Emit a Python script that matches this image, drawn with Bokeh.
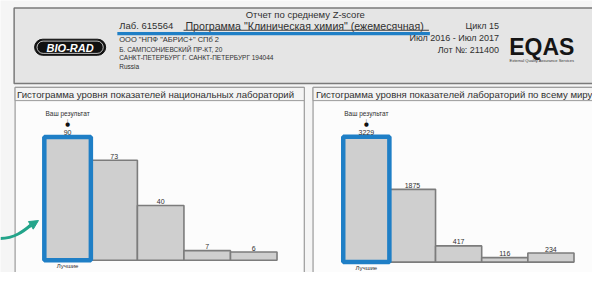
from bokeh.plotting import figure
from bokeh.models import Range1d, Arrow, NormalHead
from bokeh.core.properties import value
from bokeh.embed import file_html
from bokeh.resources import INLINE

# ---------------- data ----------------
level_labels = ["Лучшие", "", "", "", ""]
national_counts = [90, 73, 40, 7, 6]
world_counts = [3229, 1875, 417, 116, 234]
your_level = 0

national_title = "Гистограмма уровня показателей национальных лабораторий"
world_title = "Гистограмма уровня показателей лабораторий по всему миру"
your_result_label = "Ваш результат"

report_title = "Отчет по среднему Z-score"
lab_id = "Лаб. 615564"
program = 'Программа "Клиническая химия" (ежемесячная)'
address_lines = ['ООО "НПФ "АБРИС+" СПб 2', "Б. САМПСОНИЕВСКИЙ ПР-КТ, 20",
                 "САНКТ-ПЕТЕРБУРГ Г. САНКТ-ПЕТЕРБУРГ   194044", "Russia"]
cycle_lines = ["Цикл 15", "Июл 2016 - Июл 2017", "Лот №: 211400"]

# ---------------- layout (reference-pixel frame) ----------------
W, H = 608, 288
FONT = value("Liberation Sans")
TXT = "#303030"
BAR_FILL = "#cfcfcf"
BAR_LINE = "#7c7c7c"
BLUE = "#1f7fc6"
GREEN = "#23a48a"

p = figure(width=592, height=272, x_range=Range1d(0, W), y_range=Range1d(H, 0),
           output_backend="svg", toolbar_location=None, min_border=0,
           x_axis_location=None, y_axis_location=None)
p.grid.visible = False
p.outline_line_color = None
p.background_fill_color = "#f5f5f5"
p.border_fill_color = "#f5f5f5"

# header box
p.quad(left=[14], right=[620], top=[8], bottom=[88], fill_color="#e5e5e5",
       line_color="#7a7a7a", line_width=1.5)
# panels
p.quad(left=[15, 321], right=[312, 620], top=[92, 92], bottom=[300, 300],
       fill_color="#fcfcfc", line_color="#9a9a9a", line_width=1.2)
p.quad(left=[15, 321], right=[312, 620], top=[92, 92], bottom=[106, 106],
       fill_color="#f4f4f4", line_color="#9a9a9a", line_width=1)
p.text(x=[17, 324], y=[99, 99], text=[national_title, world_title],
       text_font=FONT, text_font_size="9.6px", text_color=TXT,
       text_baseline="middle", text_align="left")

# BIO-RAD logo
p.quad(left=[35], right=[108], top=[41], bottom=[58], fill_color="#111111",
       line_color="#111111", border_radius=9)
p.quad(left=[37.5], right=[105.5], top=[43], bottom=[56], fill_alpha=0,
       line_color="#eeeeee", line_width=0.8, border_radius=7)
p.text(x=[71.5], y=[49.8], text=["BIO-RAD"], text_font=FONT,
       text_font_size="11px", text_font_style="bold italic", text_color="white",
       text_align="center", text_baseline="middle")

# header texts
p.text(x=[313], y=[15], text=[report_title], text_font=FONT, text_font_size="9.5px",
       text_color=TXT, text_align="center", text_baseline="middle")
p.text(x=[122], y=[26.5], text=[lab_id], text_font=FONT,
       text_font_size="9.5px", text_color=TXT, text_align="left", text_baseline="middle")
p.text(x=[190], y=[27], text=[program], text_font=FONT,
       text_font_size="10.6px", text_color=TXT, text_align="left", text_baseline="middle")
p.segment(x0=[188], y0=[31.5], x1=[440], y1=[31.5], line_color="#404040", line_width=1)
p.text(x=[122] * 4, y=[41, 51.5, 60.5, 70], text=address_lines, text_font=FONT,
       text_font_size=["7.5px", "6.5px", "6.5px", "6.5px"], text_color=TXT,
       text_align="left", text_baseline="middle")
p.segment(x0=[120], y0=[35], x1=[441], y1=[35], line_color=BLUE, line_width=3.2)
p.text(x=[512] * 3, y=[27, 40, 52], text=cycle_lines, text_font=FONT,
       text_font_size="9px", text_color=TXT, text_align="right", text_baseline="middle")
p.text(x=[556], y=[49], text=["EQAS"], text_font=FONT, text_font_size="23px",
       text_font_style="bold", text_color="#151515", text_align="center",
       text_baseline="middle")
p.text(x=[556], y=[63], text=["External Quality Assurance Services"], text_font=FONT,
       text_font_size="4px", text_color="#333333", text_align="center",
       text_baseline="middle")

# ---------------- histograms via extra ranges ----------------
def add_hist(name, counts, left_px, unit_px, base_px, px_per_count):
    xr, yr = name + "_x", name + "_y"
    p.extra_x_ranges[xr] = Range1d(start=(0 - left_px) / unit_px,
                                   end=(W - left_px) / unit_px)
    p.extra_y_ranges[yr] = Range1d(start=-(H - base_px) / px_per_count,
                                   end=base_px / px_per_count)
    idx = list(range(len(counts)))
    p.quad(left=idx, right=[i + 1 for i in idx], bottom=[0] * len(idx), top=counts,
           fill_color=BAR_FILL, line_color=BAR_LINE, line_width=1.6,
           x_range_name=xr, y_range_name=yr)
    p.quad(left=[your_level], right=[your_level + 1], bottom=[0],
           top=[counts[your_level]], fill_alpha=0, line_color=BLUE, line_width=4.5,
           x_range_name=xr, y_range_name=yr)
    p.text(x=[i + 0.5 for i in idx], y=counts, text=[str(c) for c in counts],
           y_offset=-1.5, text_font=FONT, text_font_size="7px", text_color=TXT,
           text_align="center", text_baseline="bottom",
           x_range_name=xr, y_range_name=yr)
    cx = [your_level + 0.5]
    cy = [counts[your_level]]
    p.text(x=cx, y=cy, text=[your_result_label], y_offset=-20, text_font=FONT,
           text_font_size="6.5px", text_color=TXT, text_align="center",
           text_baseline="bottom", x_range_name=xr, y_range_name=yr)
    p.text(x=cx, y=cy, text=["|"], y_offset=-16, text_font=value("DejaVu Sans"),
           text_font_size="5px", text_color="#555555", text_align="center",
           text_baseline="middle", x_range_name=xr, y_range_name=yr)
    p.text(x=cx, y=cy, text=["●"], y_offset=-12.5, text_font=value("DejaVu Sans"),
           text_font_size="5.5px", text_color="#111111", text_align="center",
           text_baseline="middle", x_range_name=xr, y_range_name=yr)
    p.text(x=[i + 0.5 for i in idx], y=[0] * len(idx), text=level_labels, y_offset=3,
           text_font=FONT, text_font_size="6px", text_color=TXT,
           text_align="center", text_baseline="top",
           x_range_name=xr, y_range_name=yr)

add_hist("nat", national_counts, 45, 47.8, 275, 1.45)
add_hist("wld", world_counts, 352, 47.4, 277, 0.0411)

# green pointer arrow
p.bezier(x0=[0], y0=[252], x1=[31], y1=[238], cx0=[14], cy0=[252], cx1=[24], cy1=[244],
         line_color=GREEN, line_width=3)
p.add_layout(Arrow(end=NormalHead(size=9, fill_color=GREEN, line_color=GREEN),
                   x_start=29, y_start=239.5, x_end=39, y_end=233,
                   line_color=GREEN, line_width=3))

open("out.html", "w").write(file_html(p, INLINE))
